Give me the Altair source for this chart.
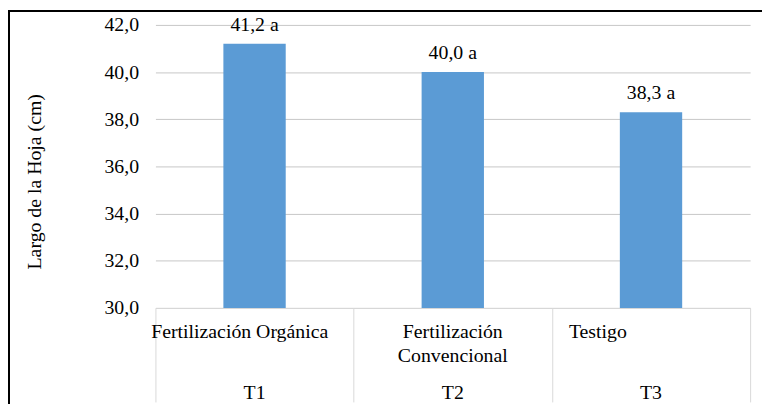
import altair as alt
import pandas as pd

codes = ["T1", "T2", "T3"]
names = ["Fertilización Orgánica", "Fertilización\nConvencional", "Testigo"]
values = [41.2, 40.0, 38.3]
letters = ["a", "a", "a"]

labels = [f"{v:.1f}".replace(".", ",") + " " + l for v, l in zip(values, letters)]
df = pd.DataFrame({"code": codes, "name": names, "value": values, "label": labels})

FONT = "'Liberation Serif', 'Times New Roman', 'DejaVu Serif', serif"
FS = 20
W, H = 601, 286

x_enc = alt.X(
    "code:N",
    sort=codes,
    scale=alt.Scale(paddingInner=0, paddingOuter=0),
    axis=alt.Axis(
        title=None,
        labels=False,
        ticks=True,
        tickBand="extent",
        tickSize=95,
        tickColor="#d9d9d9",
        tickWidth=1,
        domainColor="#d9d9d9",
        domainWidth=1,
        grid=False,
    ),
)

y_enc = alt.Y(
    "value:Q",
    scale=alt.Scale(domain=[30, 42], nice=False, zero=False),
    axis=alt.Axis(
        values=[30, 32, 34, 36, 38, 40, 42],
        labelExpr="replace(format(datum.value, '.1f'), '.', ',')",
        labelFont=FONT,
        labelFontSize=FS,
        labelColor="#000000",
        labelPadding=17,
        ticks=False,
        domain=False,
        grid=True,
        gridColor="#c6c6c6",
        gridWidth=1,
        title="Largo de la Hoja (cm)",
        titleFont=FONT,
        titleFontSize=FS,
        titleFontWeight="normal",
        titleColor="#000000",
        titleAngle=-90,
        titleAlign="center",
        titleBaseline="middle",
        titleX=-122,
        titleY=158,
    ),
)

base = alt.Chart(df)

bars = base.mark_bar(color="#5B9BD5", size=63).encode(x=x_enc, y=y_enc, y2=alt.datum(30))

vlabels = base.mark_text(
    font=FONT, fontSize=FS, color="#000000", baseline="alphabetic", dy=-13
).encode(x=alt.X("code:N", sort=codes), y="value:Q", text="label:N")

name1 = base.transform_filter(alt.datum.code == "T1").mark_text(
    font=FONT, fontSize=FS, color="#000000", baseline="top", align="center", dx=-15
).encode(x=alt.X("code:N", sort=codes), y=alt.value(300), text="name:N")

name2 = base.transform_filter(alt.datum.code == "T2").mark_text(
    font=FONT, fontSize=FS, color="#000000", baseline="top", align="center",
    lineBreak="\n", lineHeight=25,
).encode(x=alt.X("code:N", sort=codes), y=alt.value(300), text="name:N")

name3 = base.transform_filter(alt.datum.code == "T3").mark_text(
    font=FONT, fontSize=FS, color="#000000", baseline="top", align="left", dx=-83
).encode(x=alt.X("code:N", sort=codes), y=alt.value(300), text="name:N")

codes_txt = base.mark_text(
    font=FONT, fontSize=FS, color="#000000", baseline="middle", align="center"
).encode(x=alt.X("code:N", sort=codes), y=alt.value(372), text="code:N")

border_left = base.mark_rule(color="#000000", strokeWidth=2).encode(
    x=alt.value(-148), y=alt.value(-15), y2=alt.value(400)
)
border_top = base.mark_rule(color="#000000", strokeWidth=2).encode(
    y=alt.value(-14), x=alt.value(-149), x2=alt.value(620)
)

chart = alt.layer(
    bars, vlabels, name1, name2, name3, codes_txt, border_left, border_top
).properties(
    width=W,
    height=H,
    padding={"left": 149, "top": 15, "right": 12, "bottom": 95},
    autosize=alt.AutoSizeParams(type="none"),
).configure_view(stroke=None)

chart.save("out.html", embed_options={"renderer": "svg", "actions": False})
